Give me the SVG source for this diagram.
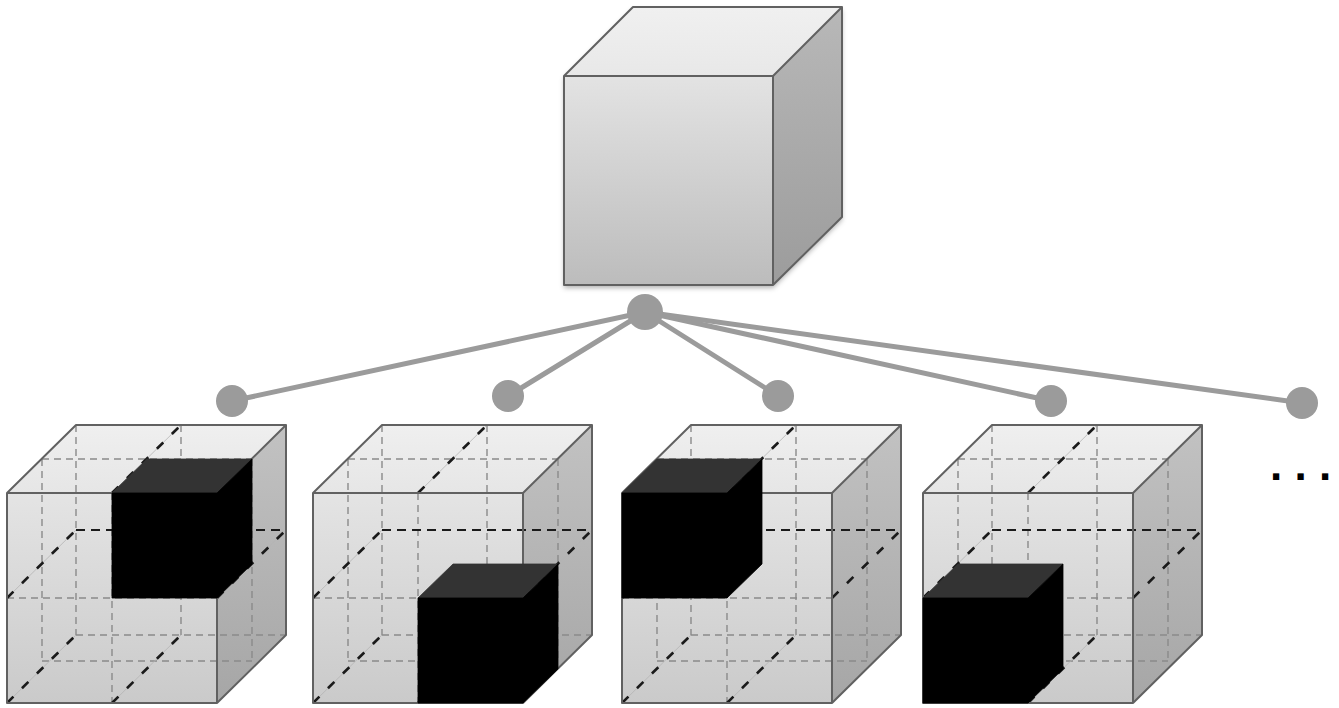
<svg xmlns="http://www.w3.org/2000/svg" width="1339" height="708" viewBox="0 0 1339 708">
<style>
.edge{fill:none;stroke:#616161;stroke-width:2;stroke-linejoin:round}
.gd{fill:none;stroke:#8a8a8a;stroke-width:1.4;stroke-dasharray:7 5}
.faint{fill:none;stroke:#b4b4b4;stroke-width:0.8}
.bd{fill:none;stroke:#1a1a1a;stroke-width:2.6;stroke-dasharray:9 12}
.bh{fill:none;stroke:#1a1a1a;stroke-width:1.8;stroke-dasharray:9 6}
.conn{stroke:#9b9b9b;stroke-width:5;stroke-linecap:round}
.dot{fill:#9b9b9b}
.bf{fill:#000;stroke:#000;stroke-width:0.8;stroke-linejoin:round}
.bt{fill:#333;stroke:#333;stroke-width:0.8;stroke-linejoin:round}
.ell{font-family:"Liberation Sans",Arial,sans-serif;font-weight:bold;font-size:44px;fill:#000}
</style>
<defs>
  <linearGradient id="tFront" x1="0" y1="0" x2="0" y2="1">
    <stop offset="0" stop-color="#e3e3e3"/><stop offset="1" stop-color="#bcbcbc"/>
  </linearGradient>
  <linearGradient id="tRight" x1="0" y1="0" x2="0" y2="1">
    <stop offset="0" stop-color="#b8b8b8"/><stop offset="1" stop-color="#9c9c9c"/>
  </linearGradient>
  <linearGradient id="tTop" x1="0" y1="0" x2="0" y2="1">
    <stop offset="0" stop-color="#f0f0f0"/><stop offset="1" stop-color="#e8e8e8"/>
  </linearGradient>
  <linearGradient id="bFront" x1="0" y1="0" x2="0" y2="1">
    <stop offset="0" stop-color="#e4e4e4"/><stop offset="1" stop-color="#cacaca"/>
  </linearGradient>
  <linearGradient id="bRight" x1="0" y1="0" x2="0" y2="1">
    <stop offset="0" stop-color="#c2c2c2"/><stop offset="1" stop-color="#a6a6a6"/>
  </linearGradient>
  <linearGradient id="bTop" x1="0" y1="0" x2="0" y2="1">
    <stop offset="0" stop-color="#efefef"/><stop offset="1" stop-color="#e6e6e6"/>
  </linearGradient>
  <filter id="shadow" x="-10%" y="-10%" width="120%" height="125%">
    <feDropShadow dx="0" dy="3" stdDeviation="2.5" flood-color="#000" flood-opacity="0.3"/>
  </filter>
  <g id="gridCube">
    <polygon points="0,0 69,-68 279,-68 210,0" fill="url(#bTop)"/>
    <polygon points="210,0 279,-68 279,142 210,210" fill="url(#bRight)"/>
    <rect x="0" y="0" width="210" height="210" fill="url(#bFront)"/>
    <path class="gd" d="M0,105H210 M35,-34H245 M35,168H245 M69,142H279 M105,0V210 M35,-34V168 M245,-34V168 M69,-68V142 M174,-68V142"/>
    <path class="faint" d="M105,0L174,-68 M0,105L69,37 M210,105L279,37 M0,210L69,142 M105,210L174,142"/>
    <path class="bd" d="M105,0L174,-68 M0,105L69,37 M210,105L279,37 M0,210L69,142 M105,210L174,142"/>
    <path class="bh" d="M69,37H279"/>
    <path class="edge" d="M0,0H210V210H0Z M0,0L69,-68H279L210,0 M279,-68V142L210,210"/>
  </g>
  <g id="blackCube">
    <polygon class="bt" points="0,0 35,-34 140,-34 105,0"/>
    <polygon class="bf" points="105,0 140,-34 140,71 105,105"/>
    <rect class="bf" x="0" y="0" width="105" height="105"/>
  </g>
</defs>

<rect x="0" y="0" width="1339" height="708" fill="#fff"/>

<g id="connectors">
  <line class="conn" x1="645" y1="312" x2="232" y2="401"/>
  <line class="conn" x1="645" y1="312" x2="508" y2="396"/>
  <line class="conn" x1="645" y1="312" x2="778" y2="396"/>
  <line class="conn" x1="645" y1="312" x2="1051" y2="401"/>
  <line class="conn" x1="645" y1="312" x2="1302" y2="403"/>
  <circle class="dot" cx="645" cy="312" r="18"/>
  <circle class="dot" cx="232" cy="401" r="16"/>
  <circle class="dot" cx="508" cy="396" r="16"/>
  <circle class="dot" cx="778" cy="396" r="16"/>
  <circle class="dot" cx="1051" cy="401" r="16"/>
  <circle class="dot" cx="1302" cy="403" r="16"/>
</g>

<g id="top-cube" transform="translate(564,76)">
  <g filter="url(#shadow)">
    <polygon points="0,0 69,-69 278,-69 209,0" fill="url(#tTop)"/>
    <polygon points="209,0 278,-69 278,141 209,209" fill="url(#tRight)"/>
    <rect x="0" y="0" width="209" height="209" fill="url(#tFront)"/>
  </g>
  <path class="edge" d="M0,0H209V209H0Z M0,0L69,-69H278L209,0 M278,-69V141L209,209"/>
</g>

<g id="cube-1" transform="translate(7,493)">
  <use href="#gridCube"/>
  <use href="#blackCube" x="105" y="0"/>
</g>

<g id="cube-2" transform="translate(313,493)">
  <use href="#gridCube"/>
  <use href="#blackCube" x="105" y="105"/>
</g>

<g id="cube-3" transform="translate(622,493)">
  <use href="#gridCube"/>
  <use href="#blackCube" x="0" y="0"/>
</g>

<g id="cube-4" transform="translate(923,493)">
  <use href="#gridCube"/>
  <use href="#blackCube" x="0" y="105"/>
</g>

<g id="ellipsis">
  <text class="ell" x="1270" y="480">. . .</text>
</g>
</svg>
